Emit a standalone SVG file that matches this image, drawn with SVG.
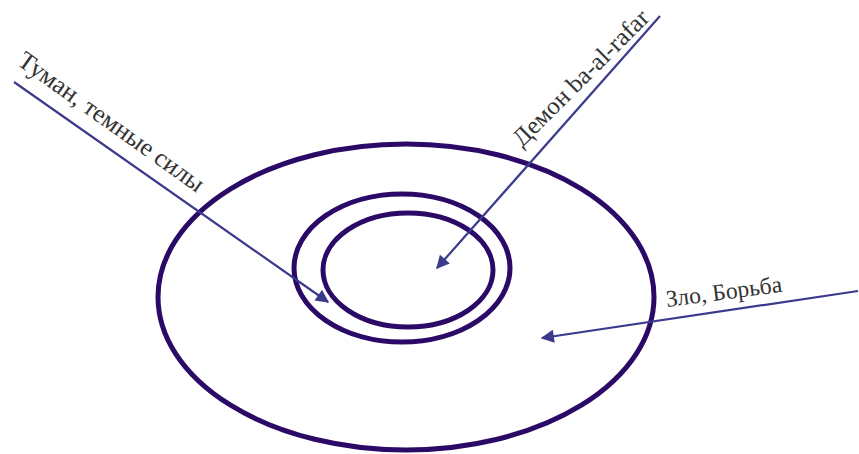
<svg xmlns="http://www.w3.org/2000/svg" width="859" height="454" viewBox="0 0 859 454">
<style>
.ring{fill:none;stroke:#2b0a67;stroke-width:5}
.conn{fill:none;stroke:#3b3a8c;stroke-width:2.2}
.lbl{font-family:"Liberation Serif","Times New Roman",serif;fill:#333;}
</style>
<defs>
<marker id="ah" viewBox="0 0 10 10" refX="9" refY="5" markerWidth="6.5" markerHeight="6" markerUnits="strokeWidth" orient="auto">
<path d="M0,0 L10,5 L0,10 Z" fill="#3b3a8c"/>
</marker>
</defs>
<rect width="859" height="454" fill="#fff"/>
<g id="outer"><ellipse class="ring" cx="406" cy="297" rx="248" ry="153"/></g>
<g id="middle"><ellipse class="ring" cx="402" cy="268" rx="108" ry="74"/></g>
<g id="inner"><ellipse class="ring" cx="408" cy="270" rx="85" ry="57"/></g>
<g id="connectors">
<line class="conn" x1="14" y1="82" x2="328" y2="302" marker-end="url(#ah)"/>
<line class="conn" x1="660" y1="16" x2="437" y2="268" marker-end="url(#ah)"/>
<line class="conn" x1="858" y1="291" x2="542" y2="338" marker-end="url(#ah)"/>
</g>
<g id="label-tuman"><text class="lbl" font-size="25.5" transform="translate(16,64) rotate(35.5)">Туман, темные силы</text></g>
<g id="label-demon"><text class="lbl" font-size="25" transform="translate(522,148) rotate(-45)">Демон ba-al-rafar</text></g>
<g id="label-zlo"><text class="lbl" font-size="23.5" transform="translate(667,307) rotate(-7.5)">Зло, Борьба</text></g>
</svg>
